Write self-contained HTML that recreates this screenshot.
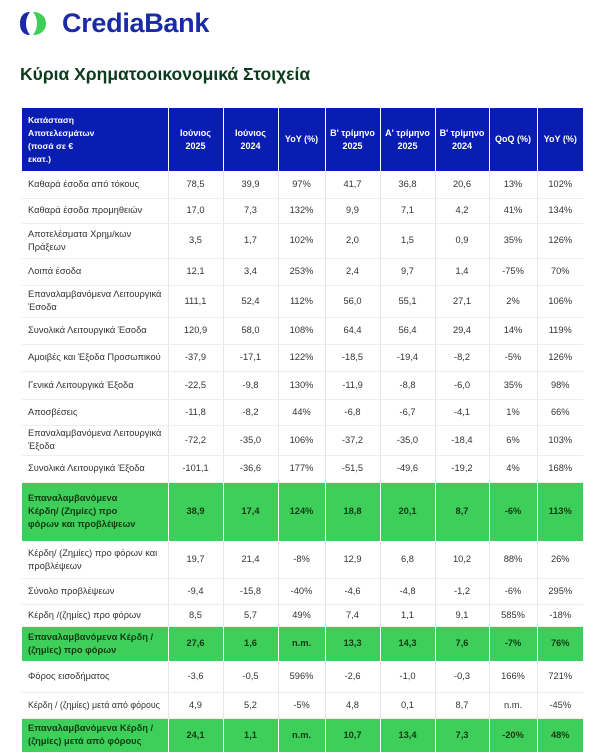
<!DOCTYPE html>
<html><head><meta charset="utf-8"><style>
body{margin:0;width:601px;height:756px;background:#fff;position:relative;overflow:hidden;font-family:"Liberation Sans","DejaVu Sans",sans-serif}
.logo{position:absolute;left:62px;top:8px;font-size:27px;font-weight:bold;color:#1b2aa6;letter-spacing:-0.3px}
.title{position:absolute;left:20px;top:64px;font-size:17.5px;color:#0b3a1c;font-weight:bold}
table{position:absolute;left:22px;top:108px;border-collapse:collapse;table-layout:fixed;width:561px}
td{font-size:9.3px;color:#333;text-align:center;border-left:1px solid #e6e6e6;border-bottom:1px solid #eeeeee;padding:0 2px;line-height:13px;overflow:hidden}
td:first-child{text-align:left;border-left:none;padding-left:6px;padding-right:4px}
tr.h td{background:#0a1db3;color:#fff;font-weight:bold;border-left:1px solid #fff;border-bottom:none;font-size:9px}
tr.h td:first-child{border-left:none;padding-right:70px;font-size:8.6px}
tr.g td{background:#3ecf5a;color:#123a12;font-weight:bold;border-left:1px solid #fff;border-bottom:1px solid #fff}
tr.g td:first-child{border-left:none;padding-right:8px}
</style></head><body>
<svg style="position:absolute;left:20px;top:11px" width="27" height="25" viewBox="0 0 27 25">
<path d="M10 1 C3 1 0 6 0 12.5 C0 19 3 24 10 24 C7 20 6 16 6 12.5 C6 9 7 5 10 1Z" fill="#1b2aa6"/>
<path d="M13 1 C20 1 26 5 26 12.5 C26 20 20 24 13 24 C16 20 17 16 17 12.5 C17 9 16 5 13 1Z" fill="#3ecf5a"/>
</svg>
<div class="logo">CrediaBank</div>
<div class="title">Κύρια Χρηματοοικονομικά Στοιχεία</div>
<table>
<colgroup><col style="width:146px"><col style="width:55px"><col style="width:55px"><col style="width:47px"><col style="width:55px"><col style="width:55px"><col style="width:54px"><col style="width:48px"><col style="width:46px"></colgroup>
<tr class="h" style="height:63px"><td>Κατάσταση Αποτελεσμάτων (ποσά σε € εκατ.)</td><td>Ιούνιος 2025</td><td>Ιούνιος 2024</td><td>YoY (%)</td><td>Β' τρίμηνο 2025</td><td>Α' τρίμηνο 2025</td><td>Β' τρίμηνο 2024</td><td>QoQ (%)</td><td>YoY (%)</td></tr>
<tr style="height:27px"><td>Καθαρά έσοδα από τόκους</td><td>78,5</td><td>39,9</td><td>97%</td><td>41,7</td><td>36,8</td><td>20,6</td><td>13%</td><td>102%</td></tr>
<tr style="height:25px"><td>Καθαρά έσοδα προμηθειών</td><td>17,0</td><td>7,3</td><td>132%</td><td>9,9</td><td>7,1</td><td>4,2</td><td>41%</td><td>134%</td></tr>
<tr style="height:35px"><td>Αποτελέσματα Χρημ/κων Πράξεων</td><td>3,5</td><td>1,7</td><td>102%</td><td>2,0</td><td>1,5</td><td>0,9</td><td>35%</td><td>126%</td></tr>
<tr style="height:27px"><td>Λοιπά έσοδα</td><td>12,1</td><td>3,4</td><td>253%</td><td>2,4</td><td>9,7</td><td>1,4</td><td>-75%</td><td>70%</td></tr>
<tr style="height:32px"><td>Επαναλαμβανόμενα Λειτουργικά Έσοδα</td><td>111,1</td><td>52,4</td><td>112%</td><td>56,0</td><td>55,1</td><td>27,1</td><td>2%</td><td>106%</td></tr>
<tr style="height:27px"><td>Συνολικά Λειτουργικά Έσοδα</td><td>120,9</td><td>58,0</td><td>108%</td><td>64,4</td><td>56,4</td><td>29,4</td><td>14%</td><td>119%</td></tr>
<tr style="height:27px"><td>Αμοιβές και Έξοδα Προσωπικού</td><td>-37,9</td><td>-17,1</td><td>122%</td><td>-18,5</td><td>-19,4</td><td>-8,2</td><td>-5%</td><td>126%</td></tr>
<tr style="height:28px"><td>Γενικά Λειτουργικά Έξοδα</td><td>-22,5</td><td>-9,8</td><td>130%</td><td>-11,9</td><td>-8,8</td><td>-6,0</td><td>35%</td><td>98%</td></tr>
<tr style="height:26px"><td>Αποσβέσεις</td><td>-11,8</td><td>-8,2</td><td>44%</td><td>-6,8</td><td>-6,7</td><td>-4,1</td><td>1%</td><td>66%</td></tr>
<tr style="height:30px"><td>Επαναλαμβανόμενα Λειτουργικά Έξοδα</td><td>-72,2</td><td>-35,0</td><td>106%</td><td>-37,2</td><td>-35,0</td><td>-18,4</td><td>6%</td><td>103%</td></tr>
<tr style="height:27px"><td>Συνολικά Λειτουργικά Έξοδα</td><td>-101,1</td><td>-36,6</td><td>177%</td><td>-51,5</td><td>-49,6</td><td>-19,2</td><td>4%</td><td>168%</td></tr>
<tr class="g" style="height:59px"><td style="padding-right:30px">Επαναλαμβανόμενα Κέρδη/ (Ζημίες) προ φόρων και προβλέψεων</td><td>38,9</td><td>17,4</td><td>124%</td><td>18,8</td><td>20,1</td><td>8,7</td><td>-6%</td><td>113%</td></tr>
<tr style="height:37px"><td>Κέρδη/ (Ζημίες) προ φόρων και προβλέψεων</td><td>19,7</td><td>21,4</td><td>-8%</td><td>12,9</td><td>6,8</td><td>10,2</td><td>88%</td><td>26%</td></tr>
<tr style="height:26px"><td>Σύνολο προβλέψεων</td><td>-9,4</td><td>-15,8</td><td>-40%</td><td>-4,6</td><td>-4,8</td><td>-1,2</td><td>-6%</td><td>295%</td></tr>
<tr style="height:22px"><td>Κέρδη /(ζημίες) προ φόρων</td><td>8,5</td><td>5,7</td><td>49%</td><td>7,4</td><td>1,1</td><td>9,1</td><td>585%</td><td>-18%</td></tr>
<tr class="g" style="height:35px"><td>Επαναλαμβανόμενα Κέρδη / (ζημίες) προ φόρων</td><td>27,6</td><td>1,6</td><td>n.m.</td><td>13,3</td><td>14,3</td><td>7,6</td><td>-7%</td><td>76%</td></tr>
<tr style="height:31px"><td>Φόρος εισοδήματος</td><td>-3,6</td><td>-0,5</td><td>596%</td><td>-2,6</td><td>-1,0</td><td>-0,3</td><td>166%</td><td>721%</td></tr>
<tr style="height:26px"><td style="padding-right:0;white-space:nowrap;font-size:8.8px">Κέρδη / (ζημίες) μετά από φόρους</td><td>4,9</td><td>5,2</td><td>-5%</td><td>4,8</td><td>0,1</td><td>8,7</td><td>n.m.</td><td>-45%</td></tr>
<tr class="g" style="height:34px"><td>Επαναλαμβανόμενα Κέρδη / (ζημίες) μετά από φόρους</td><td>24,1</td><td>1,1</td><td>n.m.</td><td>10,7</td><td>13,4</td><td>7,3</td><td>-20%</td><td>48%</td></tr>
</table>
</body></html>
